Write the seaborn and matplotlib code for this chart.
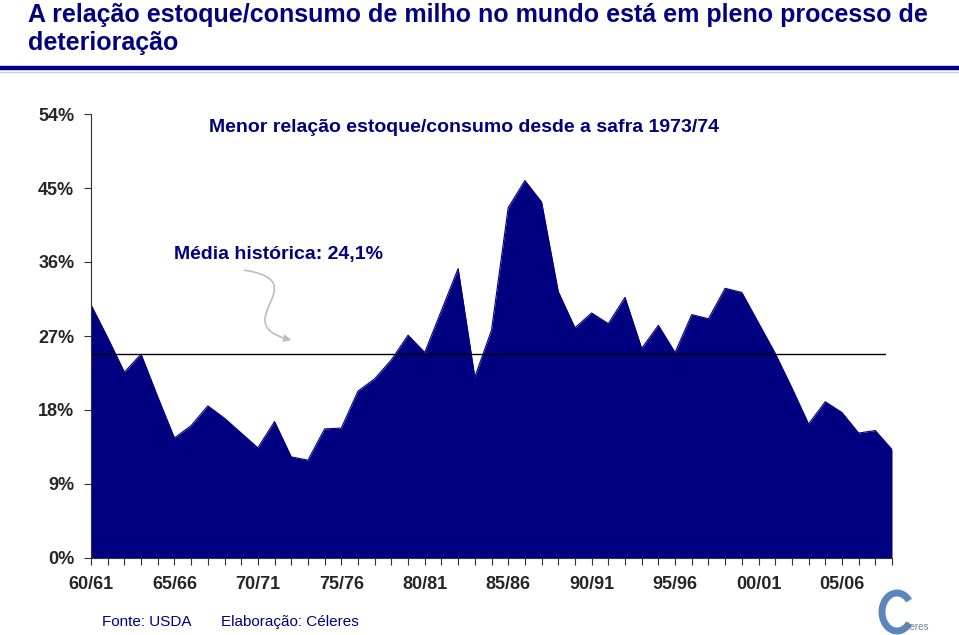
import numpy as np
import pandas as pd
import seaborn as sns
import matplotlib.pyplot as plt
from matplotlib.path import Path
from matplotlib.patches import FancyArrowPatch, Arc

# safras 60/61 ... 08/09 e relação estoque/consumo (%)
safras = [f"{a % 100:02d}/{(a + 1) % 100:02d}" for a in range(1960, 2009)]
relacao = [30.8, 26.8, 22.6, 24.8, 19.6, 14.6, 16.1, 18.5, 17.0, 15.2,
           13.4, 16.6, 12.3, 11.9, 15.7, 15.8, 20.3, 21.8, 24.1, 27.1,
           25.0, 30.1, 35.2, 22.0, 27.7, 42.6, 45.9, 43.3, 32.4, 28.0,
           29.8, 28.5, 31.7, 25.5, 28.3, 25.0, 29.6, 29.1, 32.8, 32.3,
           28.6, 24.9, 20.7, 16.3, 19.0, 17.7, 15.2, 15.5, 13.2]
media_linha = 24.8
y_ticks = [0, 9, 18, 27, 36, 45, 54]

navy = "#000080"
df = pd.DataFrame({"i": range(len(safras)), "safra": safras, "valor": relacao})

sns.set_theme(style="white")
plt.rcParams["font.family"] = ["Liberation Sans", "DejaVu Sans"]

fig = plt.figure(figsize=(9.59, 6.35), dpi=100)
ax = fig.add_axes([91 / 959, 1 - 558 / 635, (892 - 91) / 959, (558 - 114) / 635])

ax.fill_between(df["i"], df["valor"], 0, color=navy, lw=0)
sns.lineplot(data=df, x="i", y="valor", color=navy, lw=0.8, ax=ax)

# média histórica
ax.axhline(media_linha, xmin=0, xmax=47.6 / 48, color="black", lw=1)

ax.set_xlim(0, len(safras) - 1)
ax.set_ylim(0, 54)
ax.set_xticks(df["i"])
ax.set_xticklabels([s if k % 5 == 0 else "" for k, s in enumerate(safras)],
                   fontsize=13, fontweight="bold")
ax.set_yticks(y_ticks)
ax.set_yticklabels([f"{v}%" for v in y_ticks], fontsize=13, fontweight="bold")
ax.tick_params(axis="both", direction="out", length=5, width=0.8, color="#333333",
               bottom=True, left=True)
ax.tick_params(axis="x", pad=8)
ax.tick_params(axis="y", pad=7)
ax.set_xlabel("")
ax.set_ylabel("")
for s in ["top", "right"]:
    ax.spines[s].set_visible(False)
for s in ["left", "bottom"]:
    ax.spines[s].set_color("#333333")
    ax.spines[s].set_linewidth(0.8)

ax.text(0.466, 0.97, "Menor relação estoque/consumo desde a safra 1973/74",
        transform=ax.transAxes, ha="center", va="center", fontsize=14,
        fontweight="bold", color=navy)
ax.text(5.0, 36.9, "Média histórica: 24,1%", ha="left", va="center",
        fontsize=14, fontweight="bold", color=navy)

# seta curva
caminho = Path([(9.2, 35.0), (13.6, 33.6), (8.0, 28.6), (12.0, 26.5)],
               [Path.MOVETO, Path.CURVE4, Path.CURVE4, Path.CURVE4])
ax.add_patch(FancyArrowPatch(path=caminho, arrowstyle="-|>", mutation_scale=10,
                             color="#bdbdbd", lw=1.2))

# título
fig.text(28 / 959, 1 - 3 / 635,
         "A relação estoque/consumo de milho no mundo está em pleno processo de\ndeterioração",
         ha="left", va="top", fontsize=18, fontweight="bold", color=navy,
         linespacing=1.2)
fig.add_artist(plt.Line2D([0, 1], [1 - 67.5 / 635] * 2, transform=fig.transFigure,
                          color=navy, lw=3.2))
fig.add_artist(plt.Line2D([0, 1], [1 - 71.5 / 635] * 2, transform=fig.transFigure,
                          color="#c8cce0", lw=1))

# rodapé
fig.text(102 / 959, 1 - 622 / 635, "Fonte: USDA", ha="left", va="center",
         fontsize=11, color=navy)
fig.text(221 / 959, 1 - 622 / 635, "Elaboração: Céleres", ha="left", va="center",
         fontsize=11, color=navy)

# logo Céleres
fig.add_artist(Arc((897 / 959, 1 - 612 / 635), 30 / 959, 38 / 635, theta1=55, theta2=305,
                   transform=fig.transFigure, color="#5b86bd", lw=5))
fig.text(903 / 959, 1 - 627 / 635, "éleres", ha="left", va="center",
         fontsize=7, color="#6d8299")

fig.savefig("out.png", dpi=100)
